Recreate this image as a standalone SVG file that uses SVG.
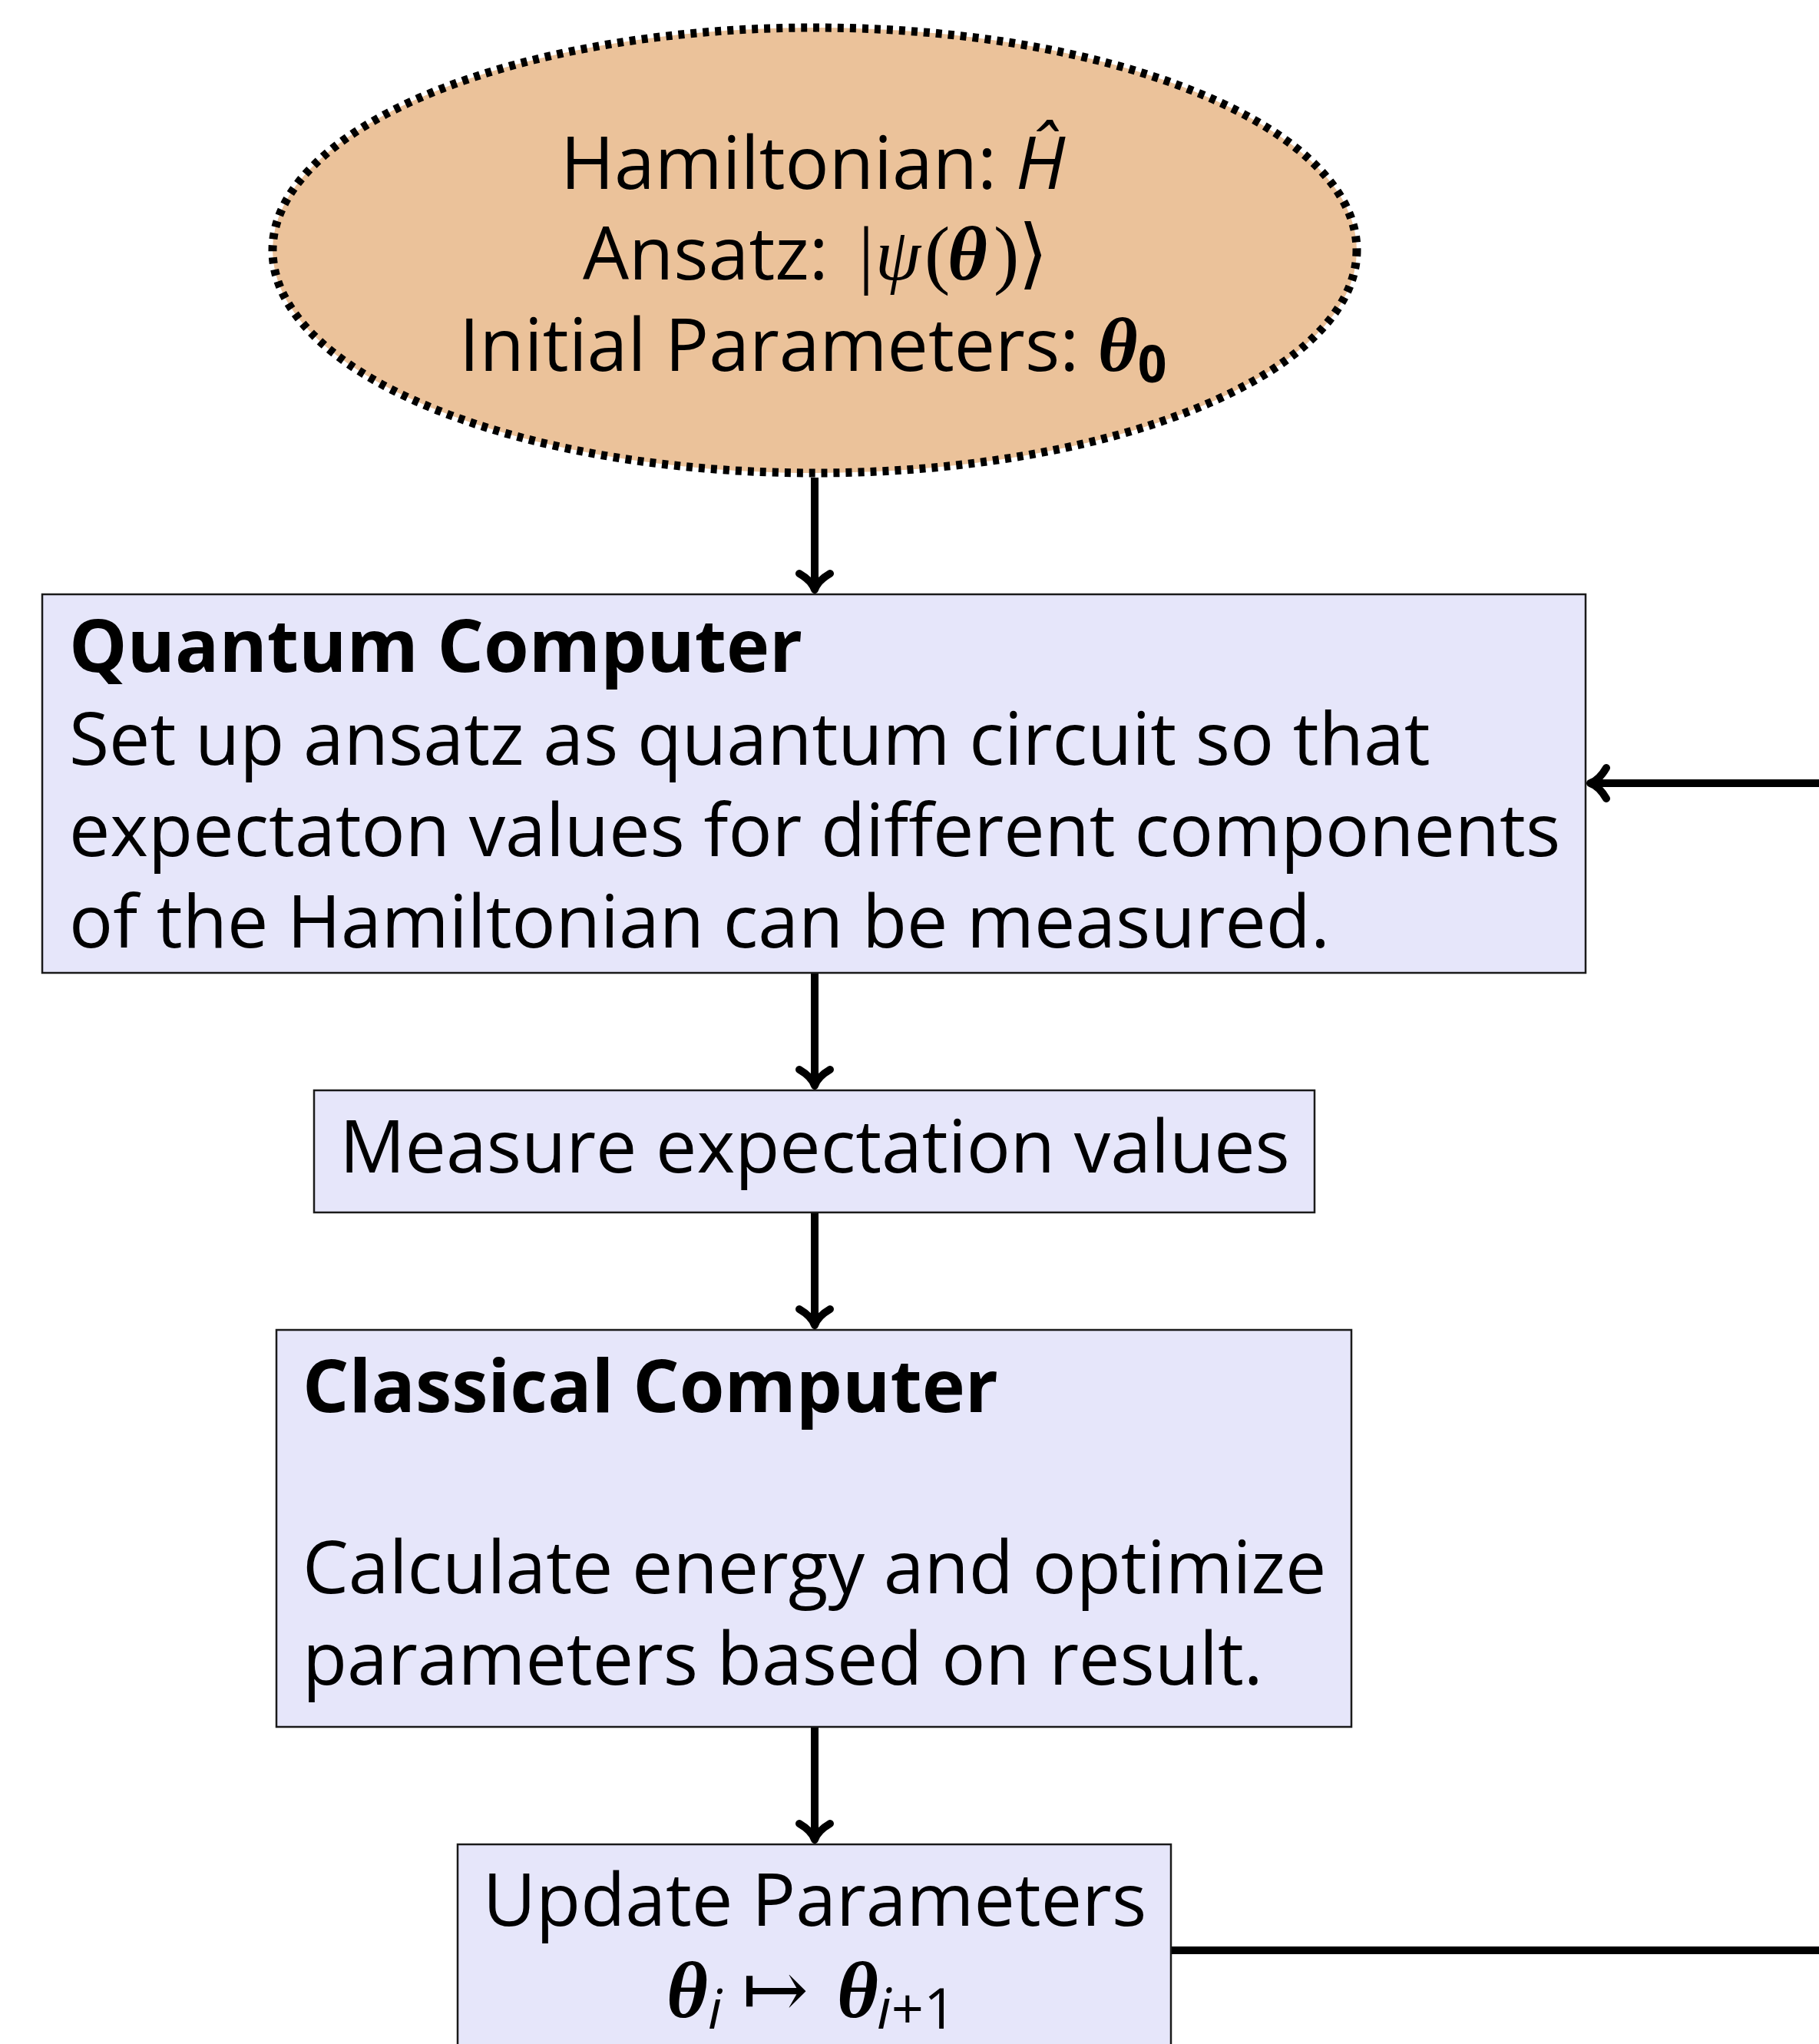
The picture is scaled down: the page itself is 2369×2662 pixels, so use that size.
<svg xmlns="http://www.w3.org/2000/svg" width="2369" height="2662" viewBox="0 0 2369 2662">
<style>
.box{fill:#E6E6FA;stroke:#1a1a1a;stroke-width:2.5}
.oval{fill:#EBC29A;stroke:#000;stroke-width:11;stroke-dasharray:8 8}
.t{font-family:"Open Sans","Noto Sans",sans-serif;font-size:95px;fill:#000}
.b{font-weight:bold}
.c{text-anchor:middle}
.m{font-family:"Liberation Serif","DejaVu Serif",serif}
.th{font-family:"Liberation Serif","DejaVu Serif",serif;font-weight:bold;font-style:italic}
.it{font-style:italic}
.ln{fill:none;stroke:#000;stroke-width:10}
.hd{fill:none;stroke:#000;stroke-width:10;stroke-linecap:round;stroke-linejoin:round}
</style>
<defs>
<marker id="ah" markerUnits="userSpaceOnUse" viewBox="-34 -34 44 68" refX="0" refY="0" markerWidth="44" markerHeight="68" orient="auto">
<path class="hd" d="M-21,-20 C-14,-8 -6,-2 0,0 C-6,2 -14,8 -21,20"/>
</marker>
</defs>
<rect width="2369" height="2662" fill="#fff"/>
<g id="connectors">
<line class="ln" x1="1061" y1="622" x2="1061" y2="768" marker-end="url(#ah)"/>
<line class="ln" x1="1061" y1="1267" x2="1061" y2="1414" marker-end="url(#ah)"/>
<line class="ln" x1="1061" y1="1579" x2="1061" y2="1726" marker-end="url(#ah)"/>
<line class="ln" x1="1061" y1="2249" x2="1061" y2="2396" marker-end="url(#ah)"/>
<line class="ln" x1="2375" y1="1020" x2="2071" y2="1020" marker-end="url(#ah)"/>
<line class="ln" x1="1525" y1="2540" x2="2375" y2="2540"/>
</g>
<g id="start">
<ellipse class="oval" cx="1061" cy="326" rx="706" ry="290"/>
<text class="t" x="730" y="246">Hamiltonian: <tspan class="it">Ĥ</tspan></text>
<text class="t" y="364"><tspan x="759">Ansatz:</tspan><tspan class="m" x="1118" font-size="100">|</tspan><tspan class="m it" x="1140">ψ</tspan><tspan class="m" x="1204" font-size="100">(</tspan><tspan class="th" x="1234" font-size="100">θ</tspan><tspan class="m" x="1294" font-size="100">)</tspan><tspan class="m" x="1326" font-size="100">⟩</tspan></text>
<text class="t" x="598" y="483">Initial Parameters: <tspan class="th" font-size="100">θ</tspan><tspan class="b" font-size="66" dy="15">0</tspan></text>
</g>
<g id="quantum">
<rect class="box" x="55" y="774" width="2010" height="493"/>
<text class="t b" x="90" y="875">Quantum Computer</text>
<text class="t" x="90" y="996">Set up ansatz as quantum circuit so that</text>
<text class="t" x="90" y="1115">expectaton values for different components</text>
<text class="t" x="90" y="1234">of the Hamiltonian can be measured.</text>
</g>
<g id="measure">
<rect class="box" x="409" y="1420" width="1303" height="159"/>
<text class="t c" x="1061" y="1527">Measure expectation values</text>
</g>
<g id="classical">
<rect class="box" x="360" y="1732" width="1400" height="517"/>
<text class="t b" x="394" y="1839">Classical Computer</text>
<text class="t" x="394" y="2075">Calculate energy and optimize</text>
<text class="t" x="394" y="2194">parameters based on result.</text>
</g>
<g id="update">
<rect class="box" x="596" y="2402" width="929" height="300"/>
<text class="t c" x="1061" y="2508">Update Parameters</text>
<text class="t" y="2627"><tspan class="th" x="868" font-size="104">θ</tspan><tspan class="it" x="922" y="2642" font-size="72">i</tspan><tspan class="m" x="966" y="2627" font-size="104">↦</tspan><tspan class="th" x="1090" font-size="104">θ</tspan><tspan x="1142" y="2642" font-size="74"><tspan class="it">i</tspan>+1</tspan></text>
</g>
</svg>
